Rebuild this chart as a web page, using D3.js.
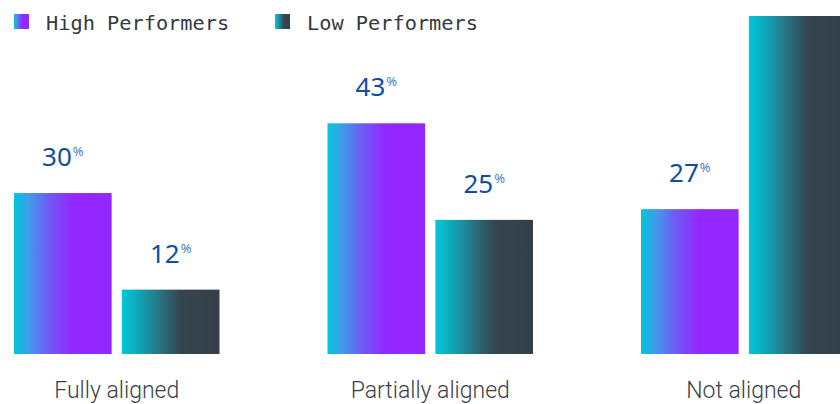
<!DOCTYPE html>
<html>
<head>
<meta charset="utf-8">
<script src="https://cdn.jsdelivr.net/npm/d3@7"></script>
<style>
  html, body { margin: 0; padding: 0; background: #ffffff; overflow: hidden; }
  svg { display: block; }
</style>
</head>
<body>
<svg id="chart" width="840" height="404"></svg>
<script>
// Share of respondents by alignment level
const categories = ["Fully aligned", "Partially aligned", "Not aligned"];
const seriesNames = ["High Performers", "Low Performers"];
const highValues = [30, 43, 27];
const lowValues = [12, 25, 63];

const width = 840, height = 404;
const svg = d3.select("#chart");

// Gradients for each series
const defs = svg.append("defs");
const gradientStops = {
  high: [["0%", "#00c8dc"], ["15%", "#3f9ce8"], ["35%", "#6e5cf5"], ["60%", "#9327ff"], ["100%", "#9426ff"]],
  low: [["0%", "#00c8da"], ["20%", "#14a0b0"], ["40%", "#28707e"], ["60%", "#344650"], ["100%", "#343f48"]]
};
Object.entries(gradientStops).forEach(([key, stops]) => {
  const g = defs.append("linearGradient")
    .attr("id", "grad-" + key)
    .attr("x1", "0%").attr("x2", "100%").attr("y1", "0%").attr("y2", "0%");
  stops.forEach(([o, c]) => g.append("stop").attr("offset", o).attr("stop-color", c));
});

const data = categories.map((c, i) => ({
  category: c,
  values: [
    { key: "high", value: highValues[i] },
    { key: "low", value: lowValues[i] }
  ]
}));

const x0 = d3.scaleBand()
  .domain(categories)
  .range([14, 846.5])
  .paddingInner(0.3445)
  .paddingOuter(0);

const x1 = d3.scaleBand()
  .domain(["high", "low"])
  .range([0, x0.bandwidth()])
  .paddingInner(0.095);

const baseline = 354;
const y = d3.scaleLinear()
  .domain([0, 63])
  .range([baseline, 16]);

// Bars
const groups = svg.append("g").selectAll("g")
  .data(data)
  .join("g")
  .attr("transform", d => `translate(${x0(d.category)},0)`);

groups.selectAll("rect")
  .data(d => d.values)
  .join("rect")
  .attr("x", d => x1(d.key))
  .attr("y", d => y(d.value))
  .attr("width", x1.bandwidth())
  .attr("height", d => baseline - y(d.value))
  .attr("fill", d => `url(#grad-${d.key})`);

// Value labels, only where there is room above the bar
const labelGap = 27;
const labels = groups.selectAll("text.value")
  .data(d => d.values.filter(v => y(v.value) - labelGap > 30))
  .join("text")
  .attr("class", "value")
  .attr("x", d => x1(d.key) + x1.bandwidth() / 2)
  .attr("y", d => y(d.value) - labelGap)
  .attr("text-anchor", "middle")
  .style("font-family", "'Noto Sans', sans-serif");

labels.append("tspan")
  .text(d => d.value)
  .attr("font-size", 26)
  .attr("fill", "#0f4f9c");
labels.append("tspan")
  .text("%")
  .attr("font-size", 13)
  .attr("dy", -10)
  .attr("dx", 1)
  .attr("fill", "#4a7cc0");

// Category axis labels
const xAxis = d3.axisBottom(x0).tickSize(0).tickPadding(0);
const axisG = svg.append("g")
  .attr("transform", `translate(0,${baseline})`)
  .call(xAxis);
axisG.select(".domain").remove();
axisG.selectAll(".tick text")
  .attr("y", 44)
  .attr("dy", 0)
  .style("font-family", "Roboto, sans-serif")
  .style("font-weight", 300)
  .style("font-size", "23px")
  .attr("fill", "#3a3f47");

// Legend
const legendKeys = ["high", "low"];
const legendX = [14, 275];
const legend = svg.append("g").selectAll("g")
  .data(seriesNames)
  .join("g")
  .attr("transform", (d, i) => `translate(${legendX[i]},14)`);
legend.append("rect")
  .attr("width", 15)
  .attr("height", 15)
  .attr("fill", (d, i) => `url(#grad-${legendKeys[i]})`);
legend.append("text")
  .attr("x", 32)
  .attr("y", 16)
  .text(d => d)
  .style("font-family", "'DejaVu Sans Mono', monospace")
  .style("font-size", "20.3px")
  .attr("fill", "#333a42");
</script>
</body>
</html>
